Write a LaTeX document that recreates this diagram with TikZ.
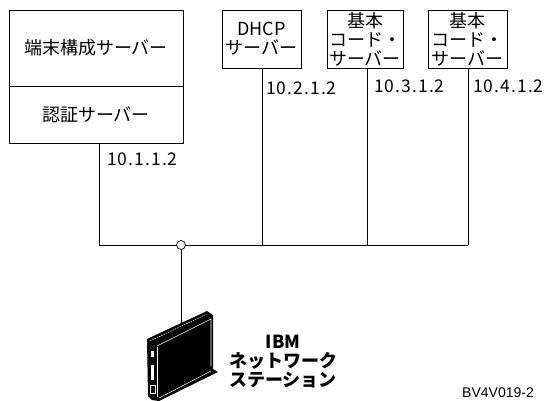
\documentclass[tikz,border=0pt]{standalone}
\usepackage{fontspec}
\usetikzlibrary{positioning}
\newfontfamily\jp{Noto Sans CJK JP}
\newfontfamily\jpip[LetterSpace=6]{Noto Sans CJK JP}
\newfontfamily\fig{Liberation Sans}

\tikzset{
  srvbox/.style={draw, line width=0.7pt, inner sep=0pt, align=center,
    font=\jp\fontsize{18}{19}\selectfont},
  iplabel/.style={anchor=west, inner sep=0pt, font=\jpip\fontsize{17.5}{17.5}\selectfont},
  hub/.style={circle, draw, fill=white, line width=0.7pt, inner sep=0pt, minimum size=9pt},
  lan/.style={line width=0.7pt}
}

\begin{document}
\begin{tikzpicture}[x=1pt, y=-1pt]
  \useasboundingbox (0,0) rectangle (544,400);

  % Servers
  \node[srvbox, minimum width=174pt, minimum height=76pt] (term) at (96,48) {端末構成サーバー};
  \node[srvbox, minimum width=174pt, minimum height=57pt] (auth) at (96,114.5) {認証サーバー};
  \node[srvbox, minimum width=79pt, minimum height=58pt] (dhcp) at (261.5,39) {DHCP\\サーバー};
  \node[srvbox, minimum width=76pt, minimum height=58pt] (code1) at (365,39) {基本\\コード・\\サーバー};
  \node[srvbox, minimum width=79pt, minimum height=58pt] (code2) at (467.5,39) {基本\\コード・\\サーバー};

  % Addresses
  \node[iplabel] (ip1) at (107,159) {10.1.1.2};
  \node[iplabel] (ip2) at (266,88) {10.2.1.2};
  \node[iplabel] (ip3) at (374,86) {10.3.1.2};
  \node[iplabel] (ip4) at (473,86) {10.4.1.2};

  % LAN
  \coordinate (b1) at (99,245);
  \coordinate (b2) at (262,245);
  \coordinate (b3) at (367,245);
  \coordinate (b4) at (468,245);
  \coordinate (nws) at (181,323);
  \draw[lan] (auth.south -| b1) -- (b1) -- (b4);
  \draw[lan] (dhcp.south -| b2) -- (b2);
  \draw[lan] (code1.south -| b3) -- (b3);
  \draw[lan] (code2.south -| b4) -- (b4);
  \node[hub] (tap) at (181,245) {};
  \draw[lan] (tap.south) -- (nws);

  % Network station
  \fill (147,339) -- (207,311) -- (213,315) -- (213,369) -- (218,372) -- (159,401)
    -- (152,400) -- (148,396) -- cycle;
  \draw[white, line width=0.5pt, dash pattern=on 1.5pt off 1pt] (150,341) -- (207,314);
  \draw[white, line width=0.6pt] (157,346) -- (211,319) -- (211,366);
  \draw[white, line width=0.6pt] (157,347) -- (157,397);
  \fill[white] (151,351) rectangle (154,357);
  \fill[white] (151,365) rectangle (154,380);
  \draw[white, line width=0.5pt] (150.5,385) rectangle (155,393);
  \draw[white, line width=0.5pt] (159,398) -- (211,371);
  \node[srvbox, draw=none, font=\jp\bfseries\fontsize{18}{19}\selectfont] (nwslabel)
    at (283,362) {IBM\\ネットワーク\\ステーション};

  \node[anchor=base west, inner sep=0pt, font=\fig\fontsize{14}{14}\selectfont] (figid)
    at (462,397) {BV4V019-2};
\end{tikzpicture}
\end{document}
